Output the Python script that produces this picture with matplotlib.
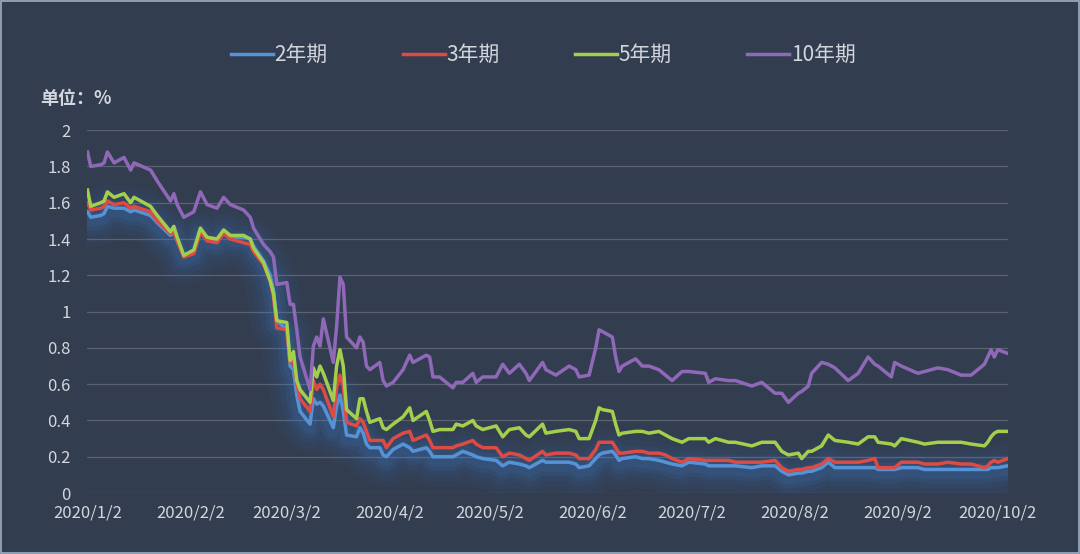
import matplotlib
matplotlib.use("Agg")
import matplotlib.pyplot as plt
from matplotlib.patches import Rectangle
from matplotlib.ticker import FuncFormatter, MultipleLocator
import pandas as pd

plt.rcParams['font.family'] = ['Noto Sans CJK SC', 'DejaVu Sans']

dates = [
    "2020-01-02", "2020-01-03", "2020-01-06", "2020-01-07", "2020-01-08", "2020-01-10",
    "2020-01-13", "2020-01-15", "2020-01-16", "2020-01-21", "2020-01-23", "2020-01-27",
    "2020-01-28", "2020-01-29", "2020-01-31", "2020-02-03", "2020-02-05", "2020-02-07",
    "2020-02-10", "2020-02-12", "2020-02-14", "2020-02-18", "2020-02-20", "2020-02-21",
    "2020-02-24", "2020-02-26", "2020-02-27", "2020-02-28", "2020-03-02", "2020-03-03",
    "2020-03-04", "2020-03-05", "2020-03-06", "2020-03-09", "2020-03-10", "2020-03-11",
    "2020-03-12", "2020-03-13", "2020-03-16", "2020-03-17", "2020-03-18", "2020-03-19",
    "2020-03-20", "2020-03-23", "2020-03-24", "2020-03-25", "2020-03-26", "2020-03-27",
    "2020-03-30", "2020-03-31", "2020-04-01", "2020-04-03", "2020-04-06", "2020-04-08",
    "2020-04-09", "2020-04-13", "2020-04-14", "2020-04-15", "2020-04-17", "2020-04-21",
    "2020-04-22", "2020-04-24", "2020-04-27", "2020-04-28", "2020-04-30", "2020-05-04",
    "2020-05-06", "2020-05-08", "2020-05-11", "2020-05-13", "2020-05-14", "2020-05-18",
    "2020-05-19", "2020-05-22", "2020-05-26", "2020-05-28", "2020-05-29", "2020-06-01",
    "2020-06-03", "2020-06-04", "2020-06-05", "2020-06-08", "2020-06-09", "2020-06-10",
    "2020-06-11", "2020-06-15", "2020-06-17", "2020-06-19", "2020-06-22", "2020-06-24",
    "2020-06-26", "2020-06-29", "2020-07-01", "2020-07-06", "2020-07-07", "2020-07-09",
    "2020-07-13", "2020-07-15", "2020-07-20", "2020-07-23", "2020-07-27", "2020-07-29",
    "2020-07-31", "2020-08-03", "2020-08-04", "2020-08-06", "2020-08-07", "2020-08-10",
    "2020-08-12", "2020-08-14", "2020-08-18", "2020-08-21", "2020-08-24", "2020-08-26",
    "2020-08-27", "2020-08-31", "2020-09-01", "2020-09-03", "2020-09-08", "2020-09-10",
    "2020-09-14", "2020-09-17", "2020-09-21", "2020-09-24", "2020-09-28", "2020-09-29",
    "2020-09-30", "2020-10-01", "2020-10-02", "2020-10-05",
]

y10 = [
    1.88, 1.80, 1.81, 1.82, 1.88, 1.82, 1.85, 1.78, 1.82, 1.78, 1.72, 1.61,
    1.65, 1.59, 1.52, 1.55, 1.66, 1.59, 1.57, 1.63, 1.59, 1.56, 1.52, 1.46,
    1.37, 1.33, 1.30, 1.15, 1.16, 1.04, 1.04, 0.90, 0.75, 0.57, 0.81, 0.86,
    0.81, 0.96, 0.72, 0.92, 1.19, 1.15, 0.86, 0.80, 0.86, 0.83, 0.70, 0.68,
    0.72, 0.62, 0.59, 0.61, 0.68, 0.76, 0.72, 0.76, 0.75, 0.64, 0.64, 0.58,
    0.61, 0.61, 0.66, 0.61, 0.64, 0.64, 0.71, 0.66, 0.71, 0.66, 0.62, 0.72,
    0.68, 0.65, 0.70, 0.68, 0.64, 0.65, 0.80, 0.90, 0.89, 0.86, 0.75, 0.67,
    0.70, 0.74, 0.70, 0.70, 0.68, 0.65, 0.62, 0.67, 0.67, 0.66, 0.61, 0.63,
    0.62, 0.62, 0.59, 0.61, 0.55, 0.55, 0.50, 0.55, 0.56, 0.59, 0.66, 0.72,
    0.71, 0.69, 0.62, 0.66, 0.75, 0.71, 0.70, 0.64, 0.72, 0.70, 0.66, 0.67,
    0.69, 0.68, 0.65, 0.65, 0.71, 0.75, 0.79, 0.75, 0.79, 0.77,
]

y5 = [
    1.67, 1.58, 1.60, 1.61, 1.66, 1.63, 1.65, 1.60, 1.63, 1.58, 1.53, 1.44,
    1.47, 1.41, 1.31, 1.34, 1.46, 1.41, 1.40, 1.45, 1.42, 1.42, 1.40, 1.35,
    1.27, 1.17, 1.10, 0.95, 0.94, 0.73, 0.78, 0.62, 0.57, 0.50, 0.69, 0.64,
    0.70, 0.66, 0.51, 0.70, 0.79, 0.70, 0.46, 0.41, 0.52, 0.52, 0.45, 0.39,
    0.41, 0.36, 0.35, 0.38, 0.42, 0.47, 0.40, 0.45, 0.40, 0.34, 0.35, 0.35,
    0.38, 0.37, 0.40, 0.37, 0.35, 0.37, 0.31, 0.35, 0.36, 0.32, 0.31, 0.38,
    0.33, 0.34, 0.35, 0.34, 0.30, 0.30, 0.40, 0.47, 0.46, 0.45, 0.38, 0.32,
    0.33, 0.34, 0.34, 0.33, 0.34, 0.32, 0.30, 0.28, 0.30, 0.30, 0.28, 0.30,
    0.28, 0.28, 0.26, 0.28, 0.28, 0.23, 0.21, 0.22, 0.19, 0.23, 0.23, 0.26,
    0.32, 0.29, 0.28, 0.27, 0.31, 0.31, 0.28, 0.27, 0.26, 0.30, 0.28, 0.27,
    0.28, 0.28, 0.28, 0.27, 0.26, 0.28, 0.31, 0.33, 0.34, 0.34,
]

y3 = [
    1.60, 1.56, 1.57, 1.58, 1.61, 1.59, 1.60, 1.57, 1.58, 1.55, 1.50, 1.43,
    1.44, 1.39, 1.30, 1.32, 1.44, 1.39, 1.38, 1.43, 1.40, 1.38, 1.37, 1.33,
    1.26, 1.17, 1.08, 0.91, 0.90, 0.72, 0.73, 0.61, 0.52, 0.45, 0.62, 0.57,
    0.60, 0.57, 0.42, 0.58, 0.65, 0.59, 0.39, 0.37, 0.41, 0.39, 0.34, 0.29,
    0.29, 0.29, 0.25, 0.30, 0.33, 0.34, 0.29, 0.32, 0.29, 0.25, 0.25, 0.25,
    0.26, 0.27, 0.29, 0.27, 0.25, 0.25, 0.20, 0.22, 0.21, 0.19, 0.18, 0.23,
    0.21, 0.22, 0.22, 0.21, 0.19, 0.19, 0.24, 0.28, 0.28, 0.28, 0.25, 0.22,
    0.22, 0.23, 0.23, 0.22, 0.22, 0.21, 0.19, 0.17, 0.19, 0.18, 0.18, 0.18,
    0.18, 0.17, 0.17, 0.17, 0.18, 0.14, 0.12, 0.13, 0.13, 0.14, 0.14, 0.16,
    0.19, 0.17, 0.17, 0.17, 0.18, 0.19, 0.14, 0.14, 0.14, 0.17, 0.17, 0.16,
    0.16, 0.17, 0.16, 0.16, 0.14, 0.15, 0.17, 0.18, 0.17, 0.19,
]

y2 = [
    1.55, 1.52, 1.53, 1.54, 1.58, 1.57, 1.57, 1.55, 1.56, 1.53, 1.49, 1.42,
    1.44, 1.39, 1.31, 1.33, 1.44, 1.40, 1.39, 1.44, 1.41, 1.41, 1.40, 1.36,
    1.28, 1.20, 1.12, 0.95, 0.90, 0.70, 0.68, 0.54, 0.45, 0.38, 0.52, 0.49,
    0.50, 0.48, 0.36, 0.48, 0.54, 0.45, 0.32, 0.31, 0.36, 0.33, 0.27, 0.25,
    0.25, 0.21, 0.20, 0.24, 0.27, 0.25, 0.23, 0.25, 0.23, 0.20, 0.20, 0.20,
    0.21, 0.23, 0.21, 0.20, 0.19, 0.18, 0.15, 0.17, 0.16, 0.15, 0.14, 0.18,
    0.17, 0.17, 0.17, 0.16, 0.14, 0.15, 0.19, 0.21, 0.22, 0.23, 0.21, 0.18,
    0.19, 0.20, 0.19, 0.19, 0.18, 0.17, 0.16, 0.15, 0.17, 0.16, 0.15, 0.15,
    0.15, 0.15, 0.14, 0.15, 0.15, 0.12, 0.10, 0.11, 0.11, 0.12, 0.12, 0.14,
    0.17, 0.14, 0.14, 0.14, 0.14, 0.14, 0.13, 0.13, 0.13, 0.14, 0.14, 0.13,
    0.13, 0.13, 0.13, 0.13, 0.13, 0.13, 0.14, 0.14, 0.14, 0.15,
]

labels = ["2年期", "3年期", "5年期", "10年期"]
colors = ["#5592d6", "#de4a44", "#a3cf4c", "#8f68b8"]
tick_dates = ["2020-01-02", "2020-02-02", "2020-03-02", "2020-04-02", "2020-05-02",
              "2020-06-02", "2020-07-02", "2020-08-02", "2020-09-02", "2020-10-02"]

bg = "#323d4f"
txt = "#d3d7dd"

x = pd.to_datetime(dates)
series = [y2, y3, y5, y10]

fig = plt.figure(figsize=(10.8, 5.54), dpi=100, facecolor=bg)
ax = fig.add_axes([0.081, 0.11, 0.852, 0.655])
ax.set_facecolor(bg)

# soft blue glow under the short-end lines, nudged downward like a drop shadow
shadow = [v - 0.02 for v in y2]
for lw, a in [(38, 0.045), (30, 0.055), (22, 0.07), (15, 0.09), (9, 0.12)]:
    ax.plot(x, shadow, color="#3f80d6", lw=lw, alpha=a, solid_capstyle="round",
            solid_joinstyle="round", zorder=2)

for ys, lab, c in zip(series, labels, colors):
    ax.plot(x, ys, color=c, lw=2.5, label=lab, zorder=3, solid_joinstyle="round")

ax.set_ylim(0, 2)
ax.yaxis.set_major_locator(MultipleLocator(0.2))
ax.yaxis.set_major_formatter(FuncFormatter(lambda v, p: "%g" % round(v, 1)))
ax.set_xlim(x[0], x[-1])
ticks = pd.to_datetime(tick_dates)
ax.set_xticks(ticks)
ax.set_xticklabels([f"{d.year}/{d.month}/{d.day}" for d in ticks])

ax.grid(axis="y", color="#5b6371", lw=0.9)
ax.set_axisbelow(True)
for s in ax.spines.values():
    s.set_visible(False)
ax.tick_params(axis="both", length=0, colors=txt, labelsize=12)
ax.tick_params(axis="x", pad=8)
ax.tick_params(axis="y", pad=12)

fig.text(40 / 1080, 1 - 98 / 554, "单位：%", color=txt, fontsize=13,
         fontweight="bold", va="center", ha="left")

fig.legend(loc="center", bbox_to_anchor=(0.503, 1 - 55 / 554), ncol=4,
           frameon=False, fontsize=15, labelcolor=txt, handlelength=2.0,
           handletextpad=0.1, columnspacing=3.6)

fig.add_artist(Rectangle((0.001, 0.001), 0.998, 0.997, transform=fig.transFigure,
                         fill=False, edgecolor="#9fb0c6", lw=1.2))

fig.savefig("out.png", dpi=100, facecolor=bg)
